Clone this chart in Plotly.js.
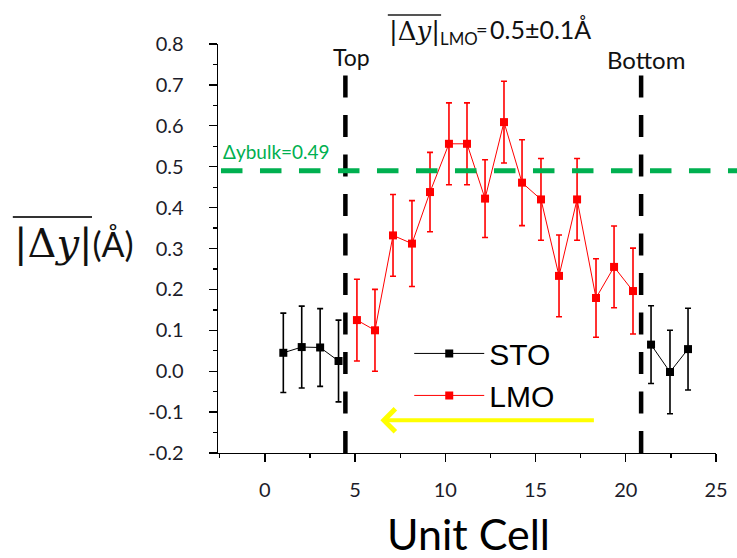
<!DOCTYPE html>
<html>
<head>
<meta charset="utf-8">
<script src="https://cdn.plot.ly/plotly-3.0.1.min.js"></script>
<style>html,body{margin:0;padding:0;background:#fff;}#chart{width:737px;height:558px;}</style>
</head>
<body>
<div id="chart"></div>
<script>
// ---- data ----
const stoX = [1.02, 2.04, 3.06, 4.08, null, 21.4, 22.45, 23.45];
const stoY = [0.045, 0.059, 0.058, 0.025, null, 0.065, -0.002, 0.054];
const stoErr = [0.097, 0.10, 0.095, 0.10, null, 0.095, 0.102, 0.10];

const lmoX = [5.1, 6.1, 7.1, 8.15, 9.15, 10.2, 11.2, 12.2, 13.25, 14.25, 15.3, 16.3, 17.3, 18.35, 19.35, 20.4];
const lmoY = [0.125, 0.100, 0.332, 0.312, 0.438, 0.556, 0.556, 0.422, 0.609, 0.461, 0.420, 0.233, 0.420, 0.179, 0.255, 0.196];
const lmoErr = [0.10, 0.10, 0.10, 0.105, 0.097, 0.10, 0.10, 0.095, 0.10, 0.105, 0.10, 0.10, 0.10, 0.096, 0.10, 0.105];

const interfaceTop = 4.46;
const interfaceBottom = 20.85;
const bulkValue = 0.49;

const xTickVals = [0, 5, 10, 15, 20, 25];
const xTickText = ['0', '5', '10', '15', '20', '25'];
const yTickVals = [-0.2, -0.1, 0.0, 0.1, 0.2, 0.3, 0.4, 0.5, 0.6, 0.7, 0.8];
const yTickText = ['-0.2', '-0.1', '0.0', '0.1', '0.2', '0.3', '0.4', '0.5', '0.6', '0.7', '0.8'];

const xRange = [-2.6, 25];
const yRange = [-0.2, 0.8];

// ---- traces ----
const sto = {
  x: stoX, y: stoY, name: 'STO', type: 'scatter', mode: 'lines+markers',
  connectgaps: false,
  line: {color: '#000000', width: 1},
  marker: {symbol: 'square', size: 8, color: '#000000'},
  error_y: {type: 'data', array: stoErr, visible: true, color: '#000000', thickness: 1.6, width: 3}
};
const lmo = {
  x: lmoX, y: lmoY, name: 'LMO', type: 'scatter', mode: 'lines+markers',
  line: {color: '#ff0000', width: 1},
  marker: {symbol: 'square', size: 8, color: '#ff0000'},
  error_y: {type: 'data', array: lmoErr, visible: true, color: '#ff0000', thickness: 1.6, width: 3}
};

const bulkPaper = (bulkValue - yRange[0]) / (yRange[1] - yRange[0]);

const sans = 'Lato, "Open Sans", sans-serif';
const tickFont = {family: sans, size: 20, color: '#1c1c2a'};

const layout = {
  width: 737, height: 558,
  margin: {l: 218, r: 21, t: 44, b: 105},
  paper_bgcolor: '#ffffff', plot_bgcolor: '#ffffff',
  showlegend: true,
  legend: {
    x: 0.384, y: 0.307, xanchor: 'left', yanchor: 'top',
    bgcolor: 'rgba(0,0,0,0)',
    itemwidth: 70,
    font: {family: '"Liberation Sans", Arial, sans-serif', size: 30, color: '#000'},
    tracegroupgap: 0
  },
  xaxis: {
    range: xRange, autorange: false,
    tickmode: 'array', tickvals: xTickVals, ticktext: xTickText,
    ticks: 'outside', ticklen: 8, tickwidth: 1.3, tickcolor: '#000',
    minor: {tickmode: 'linear', tick0: 0, dtick: 2.5, ticks: 'outside', ticklen: 4, tickwidth: 1.3, tickcolor: '#000'},
    ticklabelstandoff: 11,
    showline: true, linecolor: '#000', linewidth: 1.3,
    showgrid: false, zeroline: false,
    tickfont: tickFont,
    automargin: false
  },
  yaxis: {
    range: yRange, autorange: false,
    tickmode: 'array', tickvals: yTickVals, ticktext: yTickText,
    ticks: 'outside', ticklen: 8, tickwidth: 1.3, tickcolor: '#000',
    minor: {tickmode: 'linear', tick0: 0, dtick: 0.05, ticks: 'outside', ticklen: 4, tickwidth: 1.3, tickcolor: '#000'},
    ticklabelstandoff: 21,
    showline: true, linecolor: '#000', linewidth: 1.3,
    showgrid: false, zeroline: false,
    tickfont: tickFont,
    automargin: false
  },
  shapes: [
    {type: 'line', xref: 'x', yref: 'y', x0: interfaceTop, x1: interfaceTop, y0: yRange[0], y1: 0.75,
     line: {color: '#000', width: 4.5, dash: '22px,17.5px'}},
    {type: 'line', xref: 'x', yref: 'y', x0: interfaceBottom, x1: interfaceBottom, y0: yRange[0], y1: 0.75,
     line: {color: '#000', width: 4.5, dash: '22px,17.5px'}},
    {type: 'line', xref: 'paper', yref: 'paper', x0: 0.006, x1: 1.05, y0: bulkPaper, y1: bulkPaper,
     line: {color: '#00b050', width: 5, dash: '21.5px,17.5px'}},
    // overline for title |Δy|
    {type: 'line', xref: 'paper', yref: 'paper', x0: 0.341, x1: 0.448, y0: 1.071, y1: 1.071,
     line: {color: '#555', width: 2}},
    // overline for y label |Δy|
    {type: 'line', xref: 'paper', yref: 'paper', x0: -0.412, x1: -0.253, y0: 0.577, y1: 0.577,
     line: {color: '#333', width: 2}}
  ],
  annotations: [
    {xref: 'paper', yref: 'paper', x: 0.339, y: 1.027, xanchor: 'left', yanchor: 'middle', showarrow: false,
     text: '<span style="font-family:DejaVu Serif;font-size:26px">|Δ<i>y</i>|</span><sub>LMO</sub>',
     font: {family: sans, size: 24, color: '#111'}},
    {xref: 'paper', yref: 'paper', x: 0.530, y: 1.036, xanchor: 'center', yanchor: 'middle', showarrow: false,
     text: '=', font: {family: sans, size: 20, color: '#111'}},
    {xref: 'paper', yref: 'paper', x: 0.543, y: 1.037, xanchor: 'left', yanchor: 'middle', showarrow: false,
     text: '0.5±0.1Å', font: {family: sans, size: 25, color: '#111'}},
    {xref: 'paper', yref: 'paper', x: -0.414, y: 0.514, xanchor: 'left', yanchor: 'middle', showarrow: false,
     text: '<span style="font-family:DejaVu Serif;font-size:40px">|Δ<i>y</i>|</span>(Å)',
     font: {family: sans, size: 34, color: '#111'}},
    {xref: 'paper', yref: 'paper', x: 0.504, y: -0.196, xanchor: 'center', yanchor: 'middle', showarrow: false,
     text: 'Unit Cell', font: {family: sans, size: 43, color: '#000'}},
    {xref: 'paper', yref: 'paper', x: 0.269, y: 0.968, xanchor: 'center', yanchor: 'middle', showarrow: false,
     text: 'Top', font: {family: sans, size: 23, color: '#111'}},
    {xref: 'paper', yref: 'paper', x: 0.859, y: 0.961, xanchor: 'center', yanchor: 'middle', showarrow: false,
     text: 'Bottom', font: {family: sans, size: 24, color: '#111'}},
    {xref: 'paper', yref: 'paper', x: 0.006, y: 0.738, xanchor: 'left', yanchor: 'middle', showarrow: false,
     text: 'Δybulk=0.49', font: {family: sans, size: 19, color: '#00b050'}},
    {xref: 'x', yref: 'y', x: 6.4, y: -0.12, ax: 215, ay: 0, axref: 'pixel', ayref: 'pixel',
     text: '', showarrow: true, arrowhead: 4, arrowsize: 1.1, arrowwidth: 4, arrowcolor: '#ffff00'}
  ]
};

Plotly.newPlot('chart', [sto, lmo], layout, {displayModeBar: false, staticPlot: true});
</script>
</body>
</html>
